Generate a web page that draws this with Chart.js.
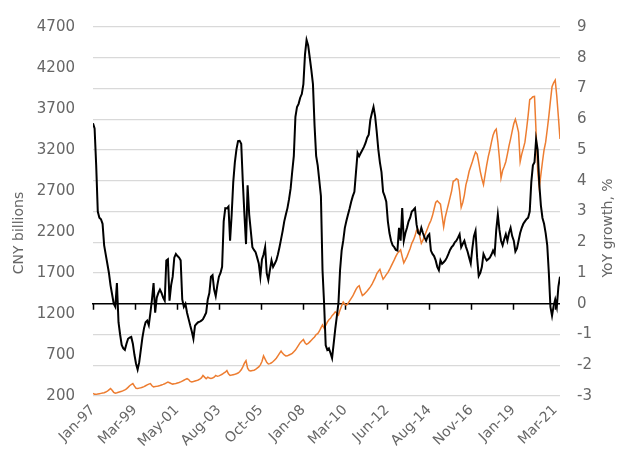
<!DOCTYPE html>
<html>
<head>
<meta charset="utf-8">
<script src="https://cdn.jsdelivr.net/npm/chart.js@4"></script>
<style>
  html, body { margin: 0; padding: 0; background: #fff; }
  #wrap { width: 619px; height: 461px; position: relative; }
</style>
</head>
<body>
<div id="wrap"><canvas id="chart"></canvas></div>
<script>
// x axis tick labels (evenly spaced, first at Jan-97, last at Mar-21)
const tickLabels = ['Jan-97', 'Mar-99', 'May-01', 'Aug-03', 'Oct-05', 'Jan-08', 'Mar-10', 'Jun-12', 'Aug-14', 'Nov-16', 'Jan-19', 'Mar-21'];
const tickStep = 290 / 11; // months between labels

// CNY billions, monthly from Jan-97 (left axis)
const cnyBillions = [
  232, 222, 220, 224, 228, 232, 236, 240, 248, 258, 275, 292,
  270, 245, 235, 240, 246, 252, 258, 265, 275, 288, 305, 325,
  340, 352, 320, 295, 292, 296, 300, 306, 314, 325, 335, 345,
  352, 325, 311, 315, 318, 322, 328, 335, 342, 350, 360, 371,
  362, 352, 345, 348, 352, 358, 364, 372, 382, 392, 402, 411,
  400, 378, 372, 376, 382, 388, 395, 405, 420, 450, 430, 411,
  430, 420, 415, 420, 430, 451, 440, 445, 455, 465, 478, 490,
  510, 470, 451, 455, 460, 465, 471, 480, 495, 520, 555, 600,
  630, 540, 510, 505, 510, 515, 525, 540, 555, 580, 620, 689,
  650, 610, 590, 595, 605, 620, 640, 660, 690, 720, 749, 720,
  700, 689, 690, 700, 709, 720, 740, 760, 790, 820, 850, 870,
  888, 850, 829, 840, 860, 880, 900, 920, 948, 960, 990, 1030,
  1068, 1028, 1060, 1100, 1130, 1147, 1180, 1200, 1227, 1210, 1187, 1250,
  1300, 1346, 1320, 1306, 1330, 1360, 1390, 1420, 1460, 1500, 1530, 1545,
  1480, 1426, 1440, 1460, 1480, 1505, 1530, 1560, 1600, 1640, 1690, 1720,
  1744, 1680, 1625, 1650, 1680, 1704, 1740, 1780, 1820, 1860, 1903, 1940,
  1960, 1982, 1900, 1823, 1860, 1900, 1950, 2000, 2062, 2100, 2150, 2221,
  2230, 2150, 2062, 2100, 2150, 2200, 2250, 2300, 2340, 2400, 2480, 2560,
  2579, 2560, 2539, 2400, 2261, 2380, 2460, 2539, 2620, 2700, 2818, 2830,
  2850, 2838, 2700, 2500, 2560, 2650, 2778, 2850, 2940, 3000, 3057, 3120,
  3176, 3150, 3050, 2937, 2850, 2778, 2900, 3017, 3120, 3200, 3296, 3380,
  3430, 3455, 3300, 3100, 2858, 2950, 3000, 3057, 3150, 3250, 3335, 3430,
  3520, 3574, 3500, 3415, 3057, 3150, 3220, 3296, 3450, 3620, 3813, 3830,
  3850, 3853, 3415, 2950, 2739, 2900, 3057, 3200, 3296, 3450, 3614, 3800,
  3972, 4020, 4052, 3853, 3600, 3335
];

// YoY growth, %, monthly from Jan-97 (right axis)
const yoyGrowth = [
  5.87, 5.7, 4.5, 3.0, 2.8, 2.75, 2.6, 1.9, 1.6, 1.3, 1.0, 0.6,
  0.3, 0.0, -0.1, 0.67, -0.6, -1.0, -1.34, -1.45, -1.5, -1.3, -1.14, -1.1,
  -1.08, -1.3, -1.66, -1.95, -2.14, -1.9, -1.5, -1.1, -0.8, -0.6, -0.55, -0.7,
  -0.3, 0.14, 0.67, -0.29, 0.2, 0.35, 0.46, 0.35, 0.2, 0.1, 1.41, 1.45,
  0.1, 0.6, 0.88, 1.5, 1.62, 1.55, 1.5, 1.41, 0.14, -0.1, 0.0, -0.29,
  -0.5, -0.71, -0.9, -1.14, -0.71, -0.65, -0.6, -0.58, -0.55, -0.5, -0.4, -0.29,
  0.14, 0.35, 0.88, 0.93, 0.46, 0.25, 0.6, 0.88, 1.0, 1.2, 2.68, 3.11,
  3.1, 3.16, 2.05, 2.9, 3.96, 4.6, 5.02, 5.29, 5.3, 5.2, 3.96, 2.9,
  1.94, 3.85, 2.9, 2.37, 1.84, 1.75, 1.68, 1.5, 1.31, 0.88, 1.44, 1.6,
  1.84, 0.99, 0.77, 1.1, 1.41, 1.2, 1.3, 1.41, 1.6, 1.84, 2.1, 2.37,
  2.68, 2.9, 3.11, 3.4, 3.75, 4.3, 4.81, 6.08, 6.4, 6.5, 6.7, 6.82,
  7.14, 8.1, 8.58, 8.4, 8.0, 7.6, 7.14, 5.8, 4.81, 4.49, 4.0, 3.5,
  1.09, 0.0, -1.35, -1.5, -1.45, -1.6, -1.77, -1.3, -0.82, -0.4, 0.03, 1.09,
  1.73, 2.05, 2.47, 2.7, 2.9, 3.1, 3.32, 3.5, 3.64, 4.28, 4.91, 4.8,
  4.9, 5.0, 5.1, 5.23, 5.4, 5.5, 5.98, 6.2, 6.4, 6.1, 5.6, 5.02,
  4.6, 4.28, 3.64, 3.5, 3.32, 2.68, 2.3, 2.05, 1.9, 1.84, 1.75, 1.73,
  2.47, 2.05, 3.11, 2.05, 2.3, 2.47, 2.68, 2.8, 3.0, 3.05, 3.11, 2.58,
  2.3, 2.26, 2.47, 2.3, 2.16, 2.05, 2.2, 2.26, 1.73, 1.62, 1.55, 1.41,
  1.2, 1.09, 1.41, 1.3, 1.35, 1.41, 1.5, 1.62, 1.75, 1.84, 1.9, 2.0,
  2.05, 2.15, 2.26, 1.84, 1.95, 2.05, 1.85, 1.7, 1.5, 1.31, 1.8, 2.2,
  2.37, 1.5, 0.9, 1.0, 1.2, 1.62, 1.5, 1.41, 1.45, 1.5, 1.6, 1.73,
  1.62, 2.4, 2.9, 2.4, 2.05, 1.9, 2.1, 2.26, 2.05, 2.3, 2.47, 2.2,
  2.05, 1.7, 1.8, 2.05, 2.3, 2.47, 2.6, 2.68, 2.75, 2.8, 3.0, 3.96,
  4.5, 4.6, 5.34, 5.0, 3.9, 3.2, 2.79, 2.6, 2.3, 1.9, 1.0, -0.1,
  -0.39, -0.07, 0.14, -0.1, 0.56, 0.88
];

const textColor = '#666';
const font = { family: 'DejaVu Sans', size: 14 };

// black zero line across the plot with small tick marks at each label
const zeroAxis = {
  id: 'zeroAxis',
  beforeDatasetsDraw(chart) {
    const { ctx, chartArea, scales } = chart;
    const y = scales.y1.getPixelForValue(0);
    ctx.save();
    ctx.strokeStyle = '#000';
    ctx.lineWidth = 1.5;
    ctx.beginPath();
    ctx.moveTo(chartArea.left - 1, y);
    ctx.lineTo(chartArea.right, y);
    scales.x.ticks.forEach((t) => {
      const x = Math.round(scales.x.getPixelForValue(t.value)) + 0.5;
      ctx.moveTo(x, y);
      ctx.lineTo(x, y + 6);
    });
    ctx.stroke();
    ctx.restore();
  }
};

// axis titles, both reading bottom to top
const axisTitles = {
  id: 'axisTitles',
  afterDraw(chart) {
    const { ctx } = chart;
    ctx.save();
    ctx.fillStyle = textColor;
    ctx.font = '14px "DejaVu Sans"';
    ctx.textAlign = 'center';
    ctx.textBaseline = 'middle';
    [['CNY billions', 19, 233], ['YoY growth, %', 608, 228]].forEach(([txt, x, y]) => {
      ctx.save();
      ctx.translate(x, y);
      ctx.rotate(-Math.PI / 2);
      ctx.fillText(txt, 0, 0);
      ctx.restore();
    });
    ctx.restore();
  }
};

new Chart(document.getElementById('chart'), {
  type: 'line',
  data: {
    datasets: [
      {
        label: 'YoY growth, %',
        data: yoyGrowth.map((v, i) => ({ x: i, y: v })),
        yAxisID: 'y1',
        borderColor: '#000',
        borderWidth: 2,
        pointRadius: 0,
        tension: 0,
        order: 0
      },
      {
        label: 'CNY billions',
        data: cnyBillions.map((v, i) => ({ x: i, y: v })),
        yAxisID: 'y',
        borderColor: '#ED7D31',
        borderWidth: 1.5,
        pointRadius: 0,
        tension: 0,
        order: 1
      }
    ]
  },
  options: {
    responsive: true,
    maintainAspectRatio: false,
    animation: false,
    layout: { padding: { top: 19, left: 0, right: 0, bottom: 0 } },
    plugins: { legend: { display: false }, tooltip: { enabled: false } },
    scales: {
      x: {
        type: 'linear',
        min: 0,
        max: cnyBillions.length - 1,
        bounds: 'data',
        grid: { display: false, drawTicks: false },
        border: { display: false },
        afterBuildTicks: (axis) => { axis.ticks = tickLabels.map((_, i) => ({ value: i * tickStep })); },
        afterFit: (axis) => { axis.height = 65; },
        ticks: {
          autoSkip: false,
          maxRotation: 45,
          minRotation: 45,
          padding: 6,
          color: textColor,
          font,
          callback: (value, index) => tickLabels[index]
        }
      },
      y: {
        position: 'left',
        min: 200,
        max: 4700,
        grid: { display: false, drawTicks: false },
        border: { display: false },
        afterFit: (axis) => { axis.width = 93; },
        ticks: {
          stepSize: 500,
          padding: 18,
          color: textColor,
          font: { family: 'DejaVu Sans', size: 15 },
          callback: (value) => String(value)
        }
      },
      y1: {
        position: 'right',
        min: -3,
        max: 9,
        grid: {
          drawTicks: false,
          color: (c) => (c.tick && c.tick.value === 0 ? 'rgba(0,0,0,0)' : '#d9d9d9'),
          lineWidth: 1.2
        },
        border: { display: false },
        afterFit: (axis) => { axis.width = 59; },
        ticks: { stepSize: 1, padding: 17, color: textColor, font: { family: 'DejaVu Sans', size: 15 } }
      }
    }
  },
  plugins: [zeroAxis, axisTitles]
});
</script>
</body>
</html>
